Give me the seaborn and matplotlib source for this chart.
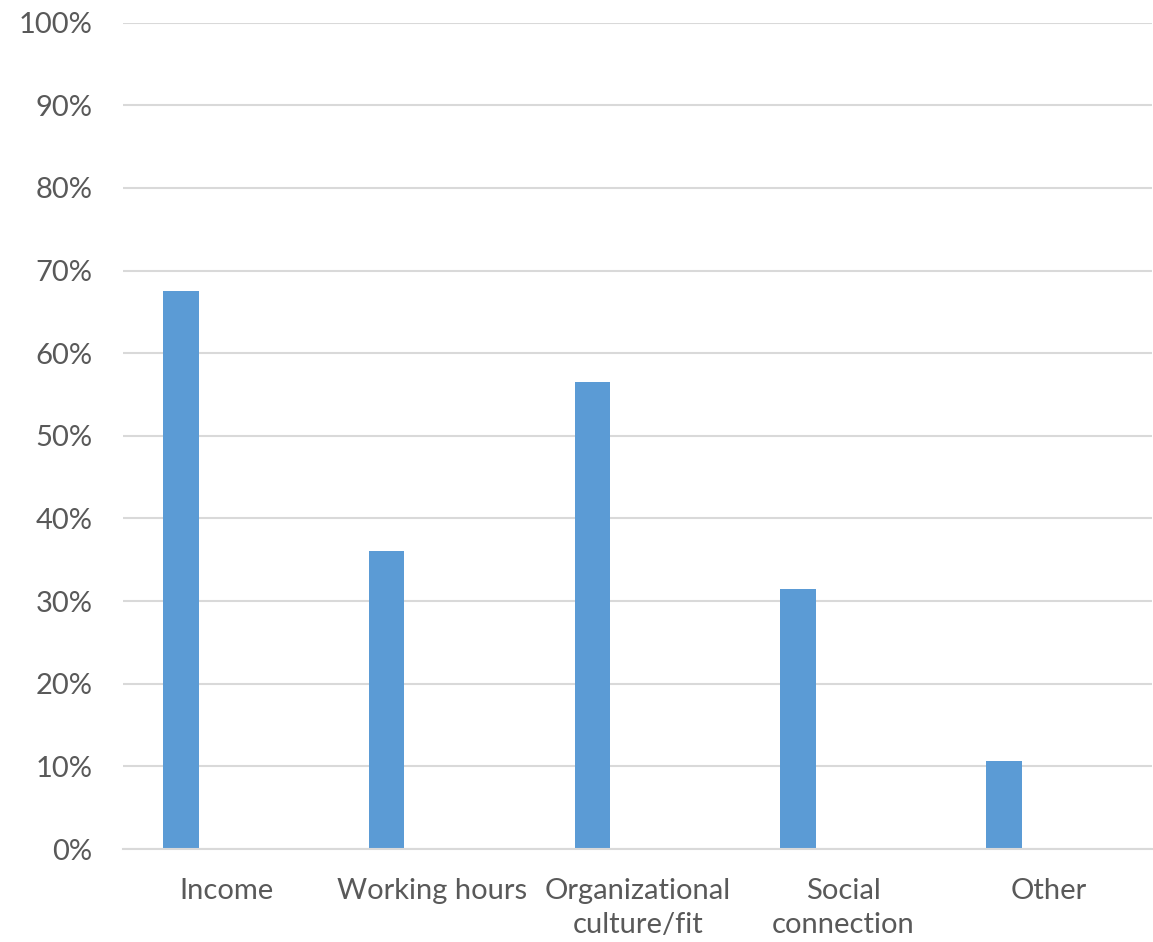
import matplotlib
matplotlib.use("Agg")
import matplotlib.pyplot as plt
import seaborn as sns
import pandas as pd
from matplotlib.ticker import PercentFormatter

categories = ["Income", "Working hours", "Organizational\nculture/fit", "Social\nconnection", "Other"]
values = [67.5, 36.1, 56.5, 31.5, 10.6]
yticks = [0, 10, 20, 30, 40, 50, 60, 70, 80, 90, 100]

df = pd.DataFrame({"category": categories, "value": values})

sns.set_theme(style="white")
plt.rcParams["font.family"] = ["Lato", "DejaVu Sans"]

fig = plt.figure(figsize=(11.53, 9.42), dpi=100)
ax = fig.add_axes([123.3 / 1153, 1 - 849 / 942, (1152 - 123.3) / 1153, (849 - 22.7) / 942])

bar_w = 0.1735
shift = 0.22
sns.barplot(data=df, x="category", y="value", color="#5B9BD5", width=bar_w,
            saturation=1, ax=ax, linewidth=0)
for p in ax.patches:
    p.set_x(p.get_x() - shift)

ax.set_xlim(-0.5, len(categories) - 0.5)
ax.set_ylim(0, 100)
ax.set_yticks(yticks)
ax.yaxis.set_major_formatter(PercentFormatter(decimals=0))
ax.grid(axis="y", color="#D9D9D9", linewidth=1.5)
ax.set_axisbelow(True)
for s in ["top", "right", "left"]:
    ax.spines[s].set_visible(False)
ax.spines["bottom"].set_color("#D9D9D9")
ax.spines["bottom"].set_linewidth(1.5)
ax.set_xlabel("")
ax.set_ylabel("")
ax.tick_params(axis="y", length=0, pad=22, labelsize=21, labelcolor="#595959")
ax.tick_params(axis="x", length=0, pad=21, labelsize=21, labelcolor="#595959")
for t in ax.get_xticklabels():
    t.set_linespacing(1.35)

fig.savefig("out.png", dpi=100)
